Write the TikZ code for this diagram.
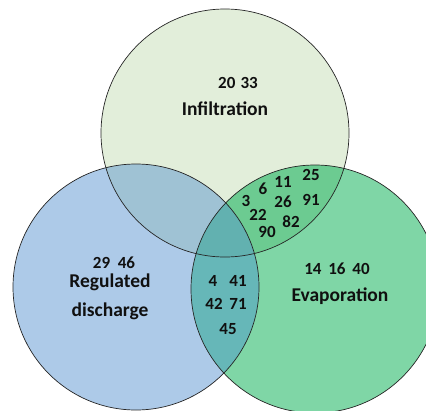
\documentclass[tikz,border=0pt]{standalone}
\usepackage{fontspec}
\setmainfont{Carlito}
\definecolor{infil}{HTML}{E2EEDA}
\definecolor{regul}{HTML}{ADCAE8}
\definecolor{evap}{HTML}{7FD6A6}
\definecolor{infregul}{HTML}{9FC2D4}
\definecolor{infevap}{HTML}{6CCB91}
\definecolor{regevap}{HTML}{66B7B8}
\definecolor{allthree}{HTML}{62B1B0}
\definecolor{ink}{HTML}{101010}
\begin{document}
\begin{tikzpicture}[x=1pt,y=-1pt,
  numtxt/.style={font=\bfseries\fontsize{17}{17}\selectfont, text=ink, inner sep=0pt},
  labtxt/.style={font=\bfseries\fontsize{19.5}{19.5}\selectfont, text=ink, inner sep=0pt},
  rim/.style={draw=black!85, line width=0.7pt}]
\useasboundingbox (0,0) rectangle (426,410);
\clip (0,0) rectangle (426,410);
\def\ctop{(225,133) circle [radius=124pt]}
\def\cleft{(136,287) circle [radius=123pt]}
\def\cright{(315,289) circle [radius=124pt]}
% single sets
\fill[infil] \ctop;
\fill[regul] \cleft;
\fill[evap] \cright;
% pairwise overlaps
\begin{scope}\clip \ctop; \fill[infregul] \cleft;\end{scope}
\begin{scope}\clip \ctop; \fill[infevap] \cright;\end{scope}
\begin{scope}\clip \cleft; \fill[regevap] \cright;\end{scope}
% triple overlap
\begin{scope}\clip \ctop; \clip \cleft; \fill[allthree] \cright;\end{scope}
% outlines
\draw[rim] \ctop;
\draw[rim] \cleft;
\draw[rim] \cright;
% Infiltration only
\node[numtxt] (n2033) at (238,83) {20\hspace{0.3em}33};
\node[labtxt] (linf) at (225,109) {Infiltration};
% Infiltration and Evaporation
\node[numtxt] (n25) at (311,175) {25};
\node[numtxt] (n11) at (283,182) {11};
\node[numtxt] (n6)  at (263,189) {6};
\node[numtxt] (n3)  at (246,201) {3};
\node[numtxt] (n26) at (283,202) {26};
\node[numtxt] (n91) at (311,200) {91};
\node[numtxt] (n22) at (258,215) {22};
\node[numtxt] (n82) at (291,222) {82};
\node[numtxt] (n90) at (267,232) {90};
% Regulated discharge and Evaporation
\node[numtxt] (n4)  at (213,281) {4};
\node[numtxt] (n41) at (238,281) {41};
\node[numtxt] (n42) at (214,304) {42};
\node[numtxt] (n71) at (238,304) {71};
\node[numtxt] (n45) at (228,329) {45};
% Regulated discharge only
\node[numtxt] (n2946) at (114,263) {29\hspace{0.45em}46};
\node[labtxt] (lreg) at (110,282) {Regulated};
\node[labtxt] (ldis) at (110,311) {discharge};
% Evaporation only
\node[numtxt] (n141640) at (337,269) {14\hspace{0.4em}16\hspace{0.4em}40};
\node[labtxt] (leva) at (340,296) {Evaporation};
\end{tikzpicture}
\end{document}
